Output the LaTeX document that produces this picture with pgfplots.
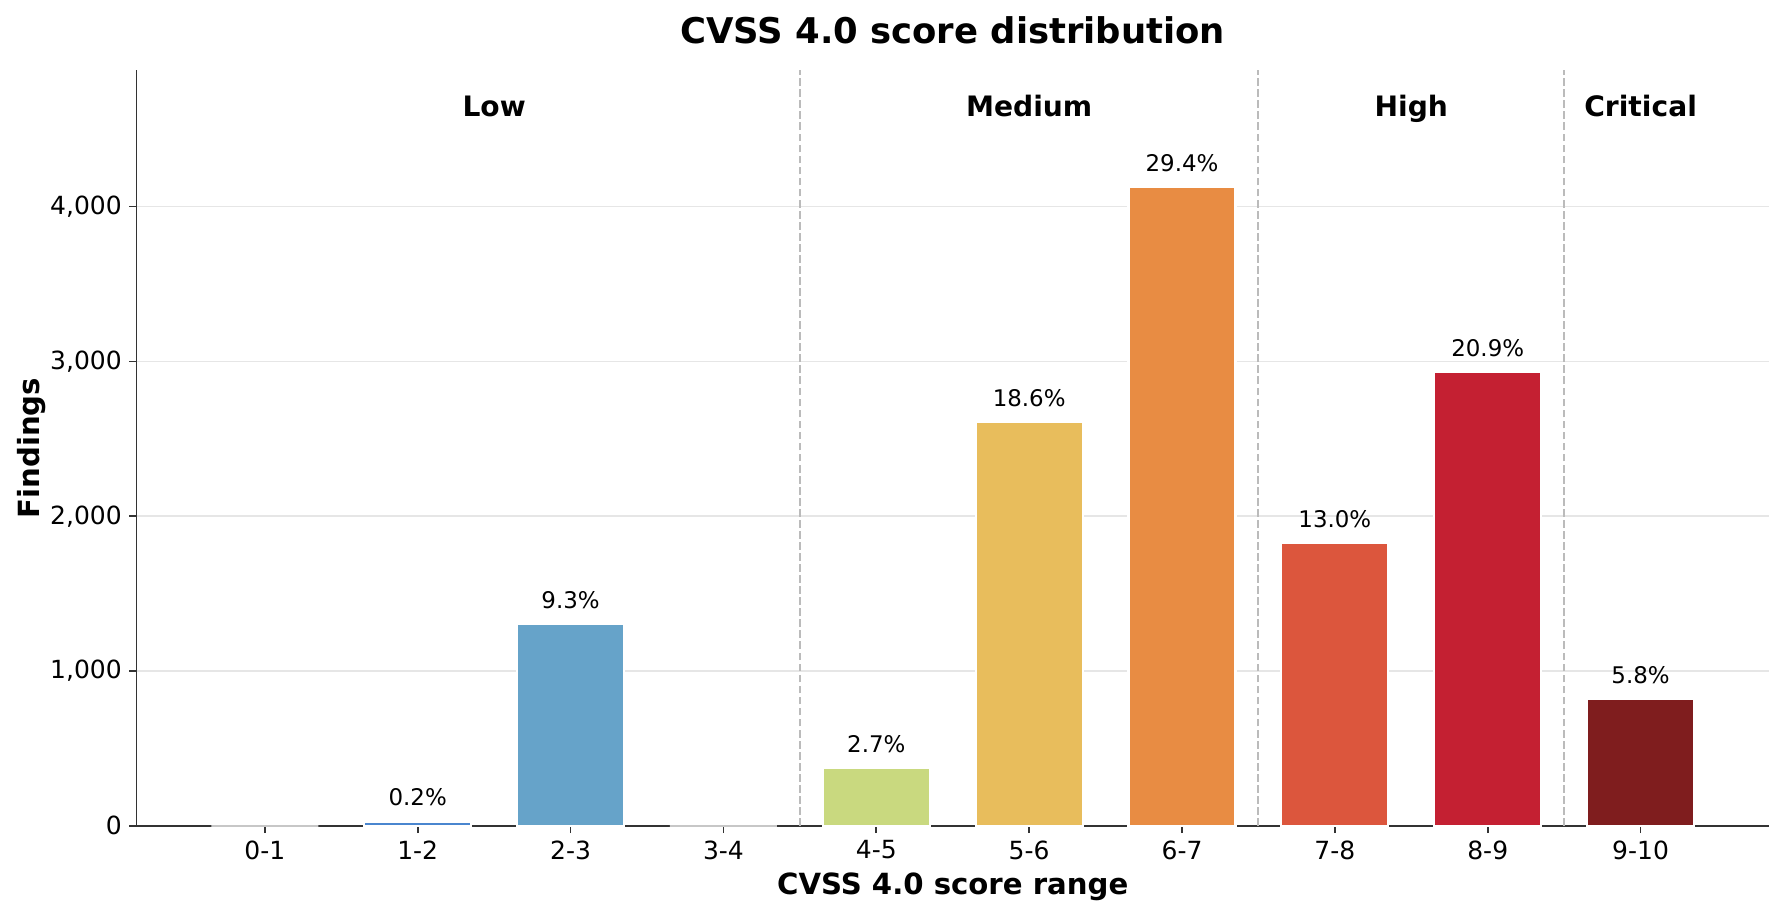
\documentclass[border=0pt]{standalone}
\usepackage{fontspec}
\setmainfont{DejaVu Sans}
\usepackage{pgfplots}
\pgfplotsset{compat=1.18}
\definecolor{c0}{HTML}{3A6FB0}
\definecolor{c1}{HTML}{4A86CF}
\definecolor{c2}{HTML}{66A3C9}
\definecolor{c3}{HTML}{8FBF9F}
\definecolor{c4}{HTML}{C9D97F}
\definecolor{c5}{HTML}{E8BD5C}
\definecolor{c6}{HTML}{E88C43}
\definecolor{c7}{HTML}{DC563D}
\definecolor{c8}{HTML}{C42032}
\definecolor{c9}{HTML}{7F1D1E}
\definecolor{axisc}{HTML}{333333}
\definecolor{gridc}{HTML}{E6E6E6}
\definecolor{sepc}{HTML}{BBBBBB}
\begin{document}
\begin{tikzpicture}
\begin{axis}[
  name=ax, at={(0,0)}, anchor=south west,
  scale only axis, width=783.6pt, height=362.6pt,
  xmin=-0.84, xmax=9.84, ymin=0, ymax=4880,
  axis x line*=bottom, axis y line*=left,
  axis line style={axisc, line width=0.8pt},
  xtick={0,1,2,3,4,5,6,7,8,9},
  xticklabels={0-1,1-2,2-3,3-4,4-5,5-6,6-7,7-8,8-9,9-10},
  ytick={0,1000,2000,3000,4000},
  minor tick num=0,
  tick align=outside, major tick length=3.5pt,
  tick style={axisc, line width=0.8pt},
  ymajorgrids, grid style={gridc, line width=0.8pt},
  ticklabel style={font=\fontsize{12}{14}\selectfont},
  /pgf/number format/assume math mode=true,
  /pgf/number format/1000 sep={,},
  clip=false,
  mybar/.style={ybar, bar shift=0pt, bar width=0.7, draw=white, line width=1pt},
  zbar/.style={ybar, bar shift=0pt, bar width=0.7, draw=black!22, line width=0.8pt},
  lab/.style={nodes near coords, point meta=explicit symbolic,
    every node near coord/.append style={anchor=base, inner sep=0pt, yshift=7.5pt,
      font=\fontsize{11}{13}\selectfont, text=black}},
]
% separators
\addplot[no marks, sepc, line width=1pt, dash pattern=on 3.7pt off 1.6pt] coordinates {(3.5,0) (3.5,4880)};
\addplot[no marks, sepc, line width=1pt, dash pattern=on 3.7pt off 1.6pt] coordinates {(6.5,0) (6.5,4880)};
\addplot[no marks, sepc, line width=1pt, dash pattern=on 3.7pt off 1.6pt] coordinates {(8.5,0) (8.5,4880)};
% bars
\addplot[zbar, fill=c0] coordinates {(0,0)};
\addplot[mybar, fill=c1, lab] coordinates {(1,28) [0.2\%]};
\addplot[mybar, fill=c2, lab] coordinates {(2,1304) [9.3\%]};
\addplot[zbar, fill=c3] coordinates {(3,0)};
\addplot[mybar, fill=c4, lab] coordinates {(4,376) [2.7\%]};
\addplot[mybar, fill=c5, lab] coordinates {(5,2608) [18.6\%]};
\addplot[mybar, fill=c6, lab] coordinates {(6,4128) [29.4\%]};
\addplot[mybar, fill=c7, lab] coordinates {(7,1827) [13.0\%]};
\addplot[mybar, fill=c8, lab] coordinates {(8,2932) [20.9\%]};
\addplot[mybar, fill=c9, lab] coordinates {(9,818) [5.8\%]};
% category labels
\node[anchor=base, font=\fontsize{13.5}{16}\selectfont\bfseries] at (axis cs:1.5,4581) {Low};
\node[anchor=base, font=\fontsize{13.5}{16}\selectfont\bfseries] at (axis cs:5,4581) {Medium};
\node[anchor=base, font=\fontsize{13.5}{16}\selectfont\bfseries] at (axis cs:7.5,4581) {High};
\node[anchor=base, font=\fontsize{13.5}{16}\selectfont\bfseries] at (axis cs:9,4581) {Critical};
% title and labels
\node[anchor=base, inner sep=0pt, font=\fontsize{17}{20}\selectfont\bfseries] at ([yshift=13.1pt]rel axis cs:0.5,1) {CVSS 4.0 score distribution};
\node[anchor=base, inner sep=0pt, font=\fontsize{14}{17}\selectfont\bfseries] at ([yshift=-32.8pt]rel axis cs:0.5,0) {CVSS 4.0 score range};
\node[anchor=base, inner sep=0pt, rotate=90, font=\fontsize{14}{17}\selectfont\bfseries] at ([xshift=-46.3pt]rel axis cs:0,0.5) {Findings};
\end{axis}
\pgfresetboundingbox
\useasboundingbox (-65.5pt,-43.2pt) rectangle (790.8pt,396.4pt);
\end{tikzpicture}
\end{document}
